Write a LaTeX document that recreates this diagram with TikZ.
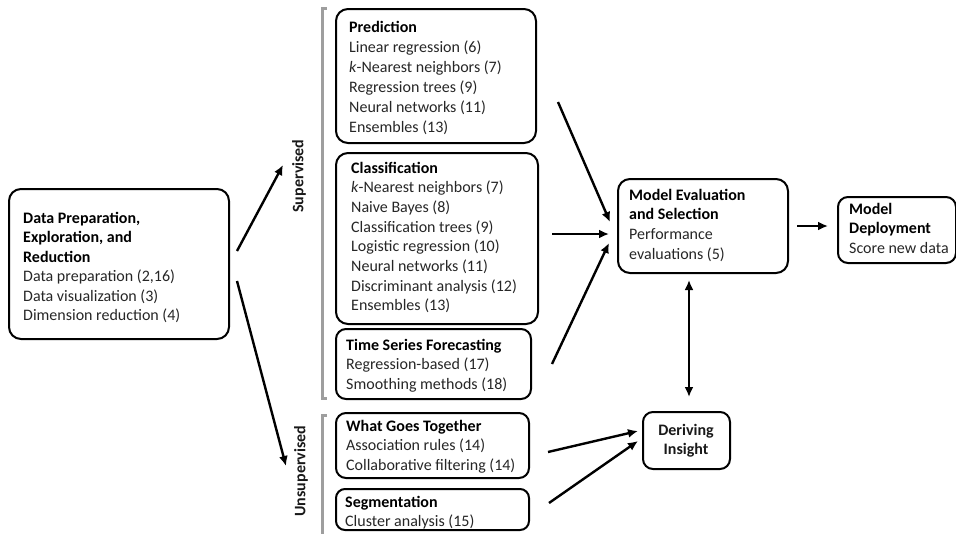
\documentclass[tikz,border=0pt]{standalone}
\usepackage{fontspec}
\setmainfont{Carlito}
\usetikzlibrary{arrows.meta,calc}
\definecolor{txtgray}{gray}{0.15}
\definecolor{brgray}{gray}{0.62}
\newcommand\hdr[1]{\textbf{\color{black}#1}}
\newcommand\boxtext[5]{\foreach \lineitem [count=\i] in {#5} \node[ln] (#1\i) at (#2,{#3+#4*(\i-1)}) {\lineitem};}
\tikzset{
  box/.style={draw, line width=2pt, rounded corners=12pt, inner sep=0pt, anchor=north west},
  ln/.style={anchor=base west, inner sep=0pt, text=txtgray},
  arr/.style={line width=2.4pt, -{Latex[length=10pt,width=9pt]}},
  dblarr/.style={line width=2.4pt, {Latex[length=10pt,width=9pt]}-{Latex[length=10pt,width=9pt]}},
  bracket/.style={draw=brgray, line width=3pt},
  bfont/.style={font={\fontsize{16}{19.5}\selectfont\bfseries}},
  side/.style={rotate=90, bfont, text=black!90, inner sep=0pt},
}
\begin{document}
\begin{tikzpicture}[x=1pt, y=-1pt, font=\fontsize{16}{19.5}\selectfont]
\useasboundingbox (0,0) rectangle (956,533);

% boxes
\node[box, minimum width=220pt, minimum height=150pt] (dp) at (8,188) {};
\node[box, minimum width=200pt, minimum height=134pt] (pred) at (335,8) {};
\node[box, minimum width=202pt, minimum height=171pt] (cls) at (335,152) {};
\node[box, minimum width=195pt, minimum height=70pt, rounded corners=10pt] (ts) at (335,328) {};
\node[box, minimum width=193pt, minimum height=65pt, rounded corners=10pt] (wgt) at (335,412) {};
\node[box, minimum width=193pt, minimum height=41pt, rounded corners=9pt] (seg) at (335,488) {};
\node[box, minimum width=170pt, minimum height=94pt] (me) at (617,178) {};
\node[box, minimum width=118pt, minimum height=66pt, rounded corners=10pt] (dep) at (837,196) {};
\node[box, minimum width=87pt, minimum height=57pt, rounded corners=10pt] (di) at (642,411) {};

% texts
\boxtext{dpt}{23}{223}{19.5}{{\hdr{Data Preparation,}},{\hdr{Exploration, and}},{\hdr{Reduction}},{Data preparation (2,16)},{Data visualization (3)},{Dimension reduction (4)}}
\boxtext{prt}{349}{32}{20}{{\hdr{Prediction}},{Linear regression (6)},{\textit{k}-Nearest neighbors (7)},{Regression trees (9)},{Neural networks (11)},{Ensembles (13)}}
\boxtext{clt}{351}{173}{19.7}{{\hdr{Classification}},{\textit{k}-Nearest neighbors (7)},{Naive Bayes (8)},{Classification trees (9)},{Logistic regression (10)},{Neural networks (11)},{Discriminant analysis (12)},{Ensembles (13)}}
\boxtext{tst}{346}{350}{19.5}{{\hdr{Time Series Forecasting}},{Regression-based (17)},{Smoothing methods (18)}}
\boxtext{wgtt}{346}{431}{19.5}{{\hdr{What Goes Together}},{Association rules (14)},{Collaborative filtering (14)}}
\boxtext{segt}{345}{507}{19.5}{{\hdr{Segmentation}},{Cluster analysis (15)}}
\boxtext{met}{629}{200}{19.8}{{\hdr{Model Evaluation}},{\hdr{and Selection}},{Performance},{evaluations (5)}}
\boxtext{dept}{849}{214}{19.5}{{\hdr{Model}},{\hdr{Deployment}},{Score new data}}
\node[anchor=base, inner sep=0pt, bfont, text=black!90] (dit1) at (686,435) {Deriving};
\node[anchor=base, inner sep=0pt, bfont, text=black!90] (dit2) at (686,454) {Insight};

% brackets and side labels
\draw[bracket] (327,8) -- (322,8) -- (322,398) -- (327,398);
\draw[bracket] (327,415) -- (322,415) -- (322,540);
\node[side] (suplab) at (299,176) {Supervised};
\node[side] (unsuplab) at (301,471) {Unsupervised};

% connectors
\draw[arr] ([shift={(7,-13)}]dp.east) -- ([shift={(-16,-11)}]suplab.center);
\draw[arr] ([shift={(7,17)}]dp.east) -- ([shift={(-15,-5)}]unsuplab.center);
\draw[arr] ([shift={(21,-42)}]pred.south east) -- ([shift={(-7,-4)}]me.west);
\draw[arr] ([shift={(13,-4.5)}]cls.east) -- ([shift={(-8,8)}]me.west);
\draw[arr] ([shift={(20,0)}]ts.east) -- ([shift={(-8,17)}]me.west);
\draw[arr] ([shift={(8,0)}]me.east) -- ([shift={(-9,-4)}]dep.west);
\draw[dblarr] ([shift={(-14,6)}]me.south) -- ([shift={(2.5,-14)}]di.north);
\draw[arr] ([shift={(18,6.5)}]wgt.east) -- ([shift={(-4,-9.5)}]di.west);
\draw[arr] ([shift={(19,-6.5)}]seg.east) -- ([shift={(-4,0.5)}]di.west);
\end{tikzpicture}
\end{document}
